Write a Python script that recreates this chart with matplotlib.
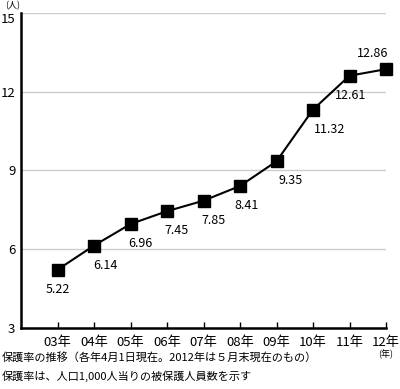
import matplotlib.pyplot as plt

plt.rcParams['font.family'] = ['Noto Sans CJK JP', 'DejaVu Sans']

years = ['03年', '04年', '05年', '06年', '07年', '08年', '09年', '10年', '11年', '12年']
rates = [5.22, 6.14, 6.96, 7.45, 7.85, 8.41, 9.35, 11.32, 12.61, 12.86]
yticks = [3, 6, 9, 12, 15]
# label offsets in points (dx, dy)
offsets = [(0, -14), (8, -14), (7, -14), (7, -14), (7, -14), (5, -14), (10, -14), (12, -14), (1, -14), (-10, 11)]

fig = plt.figure(figsize=(4.0, 3.89), dpi=100)
ax = fig.add_axes([0.0525, 0.1568, 0.9125, 0.8098])

x = list(range(len(years)))
ax.plot(x, rates, '-', color='black', lw=1.5, marker='s', ms=8.5, zorder=3, clip_on=False)

for xi, v, (dx, dy) in zip(x, rates, offsets):
	ax.annotate('%.2f' % v, (xi, v), xytext=(dx, dy), textcoords='offset points',
		ha='center', va='center', fontsize=9)

ax.set_xlim(-1, 9)
ax.set_ylim(3, 15)
ax.set_yticks(yticks)
ax.set_xticks(x)
ax.set_xticklabels(years, fontsize=9.5)
ax.tick_params(axis='y', length=0, labelsize=9.5, pad=4)
ax.tick_params(axis='x', direction='in', length=4, width=1, pad=6)
ax.grid(axis='y', color='#cccccc', lw=1)
ax.set_axisbelow(True)
# top label sits just under its gridline, clear of the unit
ax.get_yticklabels()[-1].set_va('top')

for s in ['top', 'right']:
	ax.spines[s].set_visible(False)
ax.spines['left'].set_linewidth(1.8)
ax.spines['bottom'].set_linewidth(1.8)

fig.text(0.012, 0.997, '(人)', fontsize=6.5, va='top', ha='left')
fig.text(0.965, 0.09, '(年)', fontsize=6.5, va='center', ha='center')
fig.text(0.005, 0.082, '保護率の推移（各年4月1日現在。2012年は５月末現在のもの）', fontsize=8, va='center')
fig.text(0.005, 0.032, '保護率は、人口1,000人当りの被保護人員数を示す', fontsize=8, va='center')

fig.savefig('out.png', dpi=100)
